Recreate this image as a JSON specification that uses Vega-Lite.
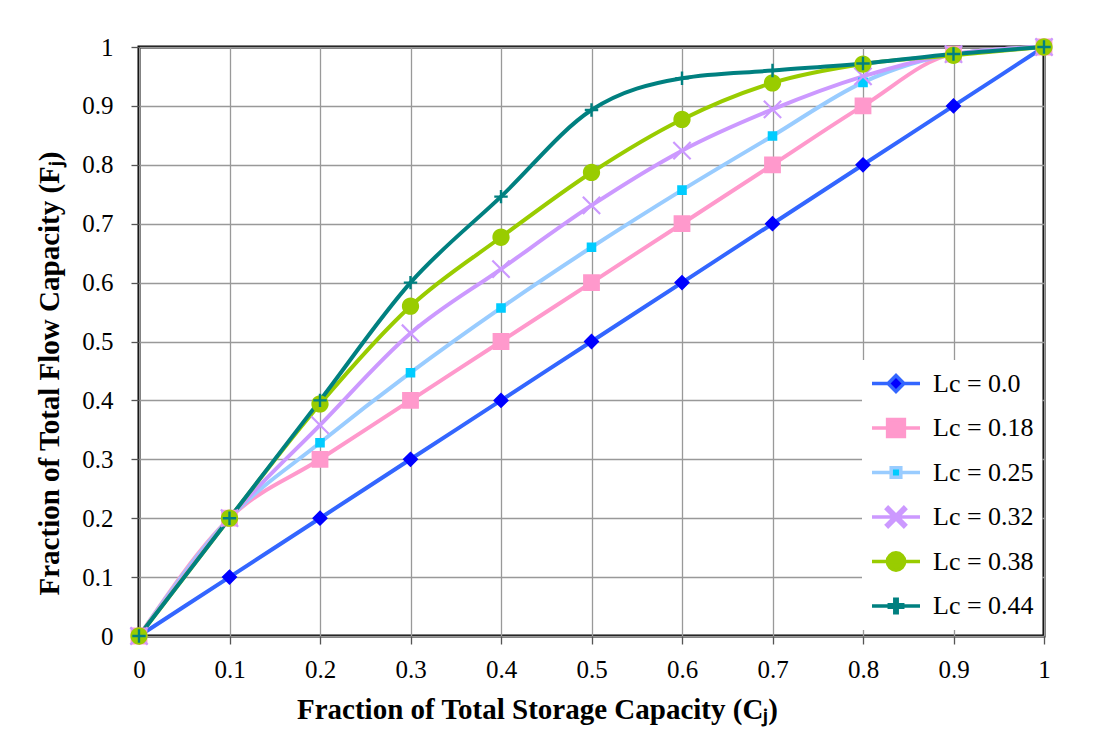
{
  "$schema": "https://vega.github.io/schema/vega-lite/v6.json",
  "width": 905,
  "height": 589,
  "autosize": {"type": "none"},
  "padding": {"left": 139, "top": 47, "right": 55, "bottom": 118},
  "background": "white",
  "config": {
    "view": {"stroke": "black", "strokeWidth": 3},
    "font": "Liberation Serif",
    "axis": {
      "labelFont": "Liberation Serif", "labelFontSize": 25, "labelColor": "black",
      "titleFont": "Liberation Serif", "titleFontSize": 29, "titleFontWeight": "bold", "titleColor": "black",
      "gridColor": "#999999", "gridWidth": 1.3, "tickColor": "#555555", "tickSize": 8, "tickWidth": 1.3,
      "domain": false, "labelFlush": false
    },
    "legend": {
      "orient": "none", "legendX": 723, "legendY": 313, "padding": 8, "fillColor": "white",
      "symbolSize": 2304, "symbolStrokeWidth": 3.5, "clipHeight": 31, "rowPadding": 13.5,
      "labelFont": "Liberation Serif", "labelFontSize": 26, "labelColor": "black", "labelOffset": 11,
      "symbolOpacity": 1
    }
  },
  "data": {"values": [
    {"series": "Lc = 0.0", "C": 0, "F": 0}, {"series": "Lc = 0.0", "C": 0.1, "F": 0.1}, {"series": "Lc = 0.0", "C": 0.2, "F": 0.2}, {"series": "Lc = 0.0", "C": 0.3, "F": 0.3}, {"series": "Lc = 0.0", "C": 0.4, "F": 0.4}, {"series": "Lc = 0.0", "C": 0.5, "F": 0.5}, {"series": "Lc = 0.0", "C": 0.6, "F": 0.6}, {"series": "Lc = 0.0", "C": 0.7, "F": 0.7}, {"series": "Lc = 0.0", "C": 0.8, "F": 0.8}, {"series": "Lc = 0.0", "C": 0.9, "F": 0.9}, {"series": "Lc = 0.0", "C": 1, "F": 1},
    {"series": "Lc = 0.18", "C": 0, "F": 0}, {"series": "Lc = 0.18", "C": 0.1, "F": 0.2}, {"series": "Lc = 0.18", "C": 0.2, "F": 0.3}, {"series": "Lc = 0.18", "C": 0.3, "F": 0.4}, {"series": "Lc = 0.18", "C": 0.4, "F": 0.5}, {"series": "Lc = 0.18", "C": 0.5, "F": 0.6}, {"series": "Lc = 0.18", "C": 0.6, "F": 0.7}, {"series": "Lc = 0.18", "C": 0.7, "F": 0.8}, {"series": "Lc = 0.18", "C": 0.8, "F": 0.9}, {"series": "Lc = 0.18", "C": 0.9, "F": 0.988}, {"series": "Lc = 0.18", "C": 1, "F": 1},
    {"series": "Lc = 0.25", "C": 0, "F": 0}, {"series": "Lc = 0.25", "C": 0.1, "F": 0.2}, {"series": "Lc = 0.25", "C": 0.2, "F": 0.328}, {"series": "Lc = 0.25", "C": 0.3, "F": 0.447}, {"series": "Lc = 0.25", "C": 0.4, "F": 0.557}, {"series": "Lc = 0.25", "C": 0.5, "F": 0.66}, {"series": "Lc = 0.25", "C": 0.6, "F": 0.757}, {"series": "Lc = 0.25", "C": 0.7, "F": 0.849}, {"series": "Lc = 0.25", "C": 0.8, "F": 0.94}, {"series": "Lc = 0.25", "C": 0.9, "F": 0.988}, {"series": "Lc = 0.25", "C": 1, "F": 1},
    {"series": "Lc = 0.32", "C": 0, "F": 0}, {"series": "Lc = 0.32", "C": 0.1, "F": 0.2}, {"series": "Lc = 0.32", "C": 0.2, "F": 0.358}, {"series": "Lc = 0.32", "C": 0.3, "F": 0.514}, {"series": "Lc = 0.32", "C": 0.4, "F": 0.623}, {"series": "Lc = 0.32", "C": 0.5, "F": 0.731}, {"series": "Lc = 0.32", "C": 0.6, "F": 0.824}, {"series": "Lc = 0.32", "C": 0.7, "F": 0.894}, {"series": "Lc = 0.32", "C": 0.8, "F": 0.95}, {"series": "Lc = 0.32", "C": 0.9, "F": 0.988}, {"series": "Lc = 0.32", "C": 1, "F": 1},
    {"series": "Lc = 0.38", "C": 0, "F": 0}, {"series": "Lc = 0.38", "C": 0.1, "F": 0.2}, {"series": "Lc = 0.38", "C": 0.2, "F": 0.394}, {"series": "Lc = 0.38", "C": 0.3, "F": 0.56}, {"series": "Lc = 0.38", "C": 0.4, "F": 0.677}, {"series": "Lc = 0.38", "C": 0.5, "F": 0.787}, {"series": "Lc = 0.38", "C": 0.6, "F": 0.877}, {"series": "Lc = 0.38", "C": 0.7, "F": 0.939}, {"series": "Lc = 0.38", "C": 0.8, "F": 0.971}, {"series": "Lc = 0.38", "C": 0.9, "F": 0.986}, {"series": "Lc = 0.38", "C": 1, "F": 1},
    {"series": "Lc = 0.44", "C": 0, "F": 0}, {"series": "Lc = 0.44", "C": 0.1, "F": 0.2}, {"series": "Lc = 0.44", "C": 0.2, "F": 0.4}, {"series": "Lc = 0.44", "C": 0.3, "F": 0.6}, {"series": "Lc = 0.44", "C": 0.4, "F": 0.746}, {"series": "Lc = 0.44", "C": 0.5, "F": 0.893}, {"series": "Lc = 0.44", "C": 0.6, "F": 0.947}, {"series": "Lc = 0.44", "C": 0.7, "F": 0.96}, {"series": "Lc = 0.44", "C": 0.8, "F": 0.972}, {"series": "Lc = 0.44", "C": 0.9, "F": 0.988}, {"series": "Lc = 0.44", "C": 1, "F": 1}
  ]},
  "encoding": {
    "x": {"field": "C", "type": "quantitative",
      "scale": {"domain": [0, 1], "nice": false},
      "axis": {"values": [0, 0.1, 0.2, 0.3, 0.4, 0.5, 0.6, 0.7, 0.8, 0.9, 1], "format": "~g", "labelPadding": 13,
        "title": "Fraction of Total Storage Capacity (Cⱼ)", "titleX": 398, "titleY": 82, "titleBaseline": "alphabetic", "titleAlign": "center"}},
    "y": {"field": "F", "type": "quantitative",
      "scale": {"domain": [0, 1], "nice": false},
      "axis": {"values": [0, 0.1, 0.2, 0.3, 0.4, 0.5, 0.6, 0.7, 0.8, 0.9, 1], "format": "~g", "labelPadding": 18,
        "title": "Fraction of Total Flow Capacity (Fⱼ)", "titleX": -81, "titleY": 326, "titleBaseline": "alphabetic", "titleAlign": "center", "titleAngle": -90}}
  },
  "layer": [
    {
      "mark": {"type": "line", "interpolate": "monotone", "strokeWidth": 4},
      "encoding": {
        "color": {"field": "series", "type": "nominal",
          "scale": {"domain": ["Lc = 0.44", "Lc = 0.38", "Lc = 0.32", "Lc = 0.25", "Lc = 0.18", "Lc = 0.0"],
                    "range": ["#008080", "#99CC00", "#CC99FF", "#99CCFF", "#FF99CC", "#3366FF"]},
          "legend": null}
      }
    },
    {
      "mark": {"type": "point", "filled": true, "opacity": 1, "size": 2304},
      "encoding": {
        "stroke": {"field": "series", "type": "nominal",
          "scale": {"domain": ["Lc = 0.0", "Lc = 0.18", "Lc = 0.25", "Lc = 0.32", "Lc = 0.38", "Lc = 0.44"],
                    "range": ["#3366FF", "#FF99CC", "#99CCFF", "#CC99FF", "#99CC00", "#008080"]},
          "legend": {"title": null}},
        "fill": {"field": "series", "type": "nominal",
          "scale": {"domain": ["Lc = 0.0", "Lc = 0.18", "Lc = 0.25", "Lc = 0.32", "Lc = 0.38", "Lc = 0.44"],
                    "range": ["#0000FF", "#FF99CC", "#00CCFF", "#CC99FF", "#99CC00", "#008080"]},
          "legend": {"title": null}},
        "shape": {"field": "series", "type": "nominal",
          "scale": {"domain": ["Lc = 0.0", "Lc = 0.18", "Lc = 0.25", "Lc = 0.32", "Lc = 0.38", "Lc = 0.44"],
                    "range": [
                      "M-1,0H-0.33M0.33,0H1M0,-0.33L0.33,0L0,0.33L-0.33,0Z",
                      "M-1,0H1M-0.35,-0.35H0.35V0.35H-0.35Z",
                      "M-1,0H-0.2M0.2,0H1M-0.2,-0.2H0.2V0.2H-0.2Z",
                      "M-1,0H1M-0.328,-0.392L0.392,0.328L0.328,0.392L-0.392,-0.328ZM-0.392,0.328L0.328,-0.392L0.392,-0.328L-0.328,0.392Z",
                      "M-1,0H1M0.36,0A0.36,0.36,0,1,1,-0.36,0A0.36,0.36,0,1,1,0.36,0Z",
                      "M-1,0H1M-0.28,-0.05H0.28V0.05H-0.28ZM0.05,-0.28V0.28H-0.05V-0.28Z"
                    ]},
          "legend": {"title": null}},
        "strokeWidth": {"value": 0}
      }
    }
  ]
}
